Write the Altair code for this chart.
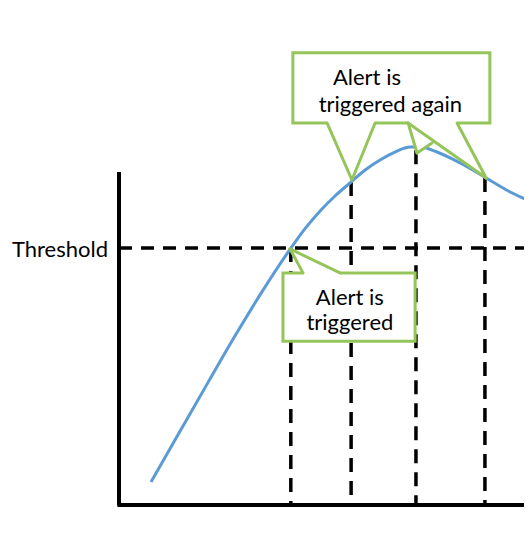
import altair as alt
import pandas as pd

# ---- data (x: time 0..100, y: value 0..100 where 100 = top of y axis) ----
curve_t = [7.75, 14.8, 21.6, 28.1, 34.6, 41.65, 45.0, 48.7, 52.3, 56.2, 59.6, 63.2, 66.8, 70.5, 72.9, 77.0, 82.6, 88.9, 94.7, 100.0]
curve_v = [6.9, 22.2, 36.9, 50.8, 64.0, 77.2, 82.9, 88.3, 92.8, 97.0, 100.6, 103.6, 106.0, 107.5, 107.5, 106.0, 102.7, 98.2, 94.0, 91.0]

threshold = 77.2
alert_t = [41.6, 56.2, 71.9, 88.6]
alert_v = [77.2, 97.0, 106.5, 98.2]

# callout boxes
box_id = ["once", "again"]
box_x1 = [39.7, 42.1]
box_x2 = [71.7, 89.8]
box_y1 = [49.2, 114.7]
box_y2 = [69.7, 135.8]

# callout pointers (white fill): id, x, low, high
ptr_id = ["a", "a", "a", "b", "b", "b", "c", "c", "c", "d", "d", "d"]
ptr_x = [41.4, 44.55, 53.5, 50.4, 56.4, 62.0, 70.0, 72.15, 75.8, 70.0, 81.85, 88.9]
ptr_lo = [76.9, 69.1, 69.1, 114.7, 97.6, 114.7, 114.7, 105.7, 108.7, 114.7, 104.3, 98.2]
ptr_hi = [76.9, 75.0, 69.7, 115.3, 115.3, 115.3, 115.3, 112.5, 108.7, 115.3, 115.3, 98.2]

# pointer edges
edge_x1 = [44.55, 53.5, 50.4, 62.0, 70.0, 72.15, 70.0, 81.85]
edge_y1 = [69.7, 69.7, 114.7, 114.7, 114.7, 105.7, 114.7, 114.7]
edge_x2 = [41.4, 41.4, 56.4, 56.4, 72.15, 75.8, 88.9, 88.9]
edge_y2 = [76.9, 76.9, 97.6, 97.6, 105.7, 108.7, 98.2, 98.2]

# texts
txt = ["Alert is", "triggered again", "Alert is", "triggered"]
txt_x = [51.8, 65.7, 55.9, 55.9]
txt_y = [126.1, 118.1, 60.1, 52.6]
txt_align = ["left", "center", "center", "center"]

label_text = ["Threshold"]

GREEN = "#95C55A"
BLUE = "#5B9BD5"
FONT = "Lato"
FS = 22

xs = alt.Scale(domain=[0, 98.06], nice=False, zero=False)
ys = alt.Scale(domain=[0, 100], nice=False, zero=False)

curve_df = pd.DataFrame({"t": curve_t, "v": curve_v})
alert_df = pd.DataFrame({"t": alert_t, "v": alert_v, "base": [0] * len(alert_t)})
box_df = pd.DataFrame({"id": box_id, "x1": box_x1, "x2": box_x2, "y1": box_y1, "y2": box_y2})
ptr_df = pd.DataFrame({"id": ptr_id, "x": ptr_x, "lo": ptr_lo, "hi": ptr_hi})
edge_df = pd.DataFrame({"x1": edge_x1, "y1": edge_y1, "x2": edge_x2, "y2": edge_y2})
txt_df = pd.DataFrame({"text": txt, "x": txt_x, "y": txt_y, "align": txt_align})
thr_df = pd.DataFrame({"y": [threshold], "x1": [0], "x2": [100], "label": label_text, "lx": [-2.66], "ly": [74.5]})
axes_df = pd.DataFrame({"x1": [0, -0.4], "x2": [0, 100], "y1": [0, 0], "y2": [100, 0]})

X = lambda f: alt.X(f, type="quantitative", scale=xs, axis=None)
Y = lambda f: alt.Y(f, type="quantitative", scale=ys, axis=None)

vlines = alt.Chart(alert_df).mark_rule(color="black", strokeWidth=3.5, strokeDash=[14, 9]).encode(
    x=X("t"), y=Y("v"), y2="base"
)
hline = alt.Chart(thr_df).mark_rule(color="black", strokeWidth=3.5, strokeDash=[13, 9]).encode(
    x=X("x1"), x2="x2", y=Y("y")
)
curve = alt.Chart(curve_df).mark_line(color=BLUE, strokeWidth=3, interpolate="monotone").encode(
    x=X("t"), y=Y("v")
)
axes = alt.Chart(axes_df).mark_rule(color="black", strokeWidth=4).encode(
    x=X("x1"), x2="x2", y=Y("y1"), y2="y2"
)
boxes = alt.Chart(box_df).mark_rect(fill="white", stroke=GREEN, strokeWidth=3).encode(
    x=X("x1"), x2="x2", y=Y("y1"), y2="y2"
)
ptrs = alt.Chart(ptr_df).mark_area(fill="white", opacity=1).encode(
    x=X("x"), y=Y("lo"), y2="hi", detail="id"
)
edges = alt.Chart(edge_df).mark_rule(color=GREEN, strokeWidth=3, strokeCap="round").encode(
    x=X("x1"), x2="x2", y=Y("y1"), y2="y2"
)
texts_left = alt.Chart(txt_df).transform_filter(alt.datum.align == "left").mark_text(
    font=FONT, fontSize=FS, color="black", baseline="alphabetic", align="left"
).encode(x=X("x"), y=Y("y"), text="text")
texts_center = alt.Chart(txt_df).transform_filter(alt.datum.align == "center").mark_text(
    font=FONT, fontSize=FS, color="black", baseline="alphabetic", align="center"
).encode(x=X("x"), y=Y("y"), text="text")
thr_label = alt.Chart(thr_df).mark_text(font=FONT, fontSize=FS, color="black", baseline="alphabetic", align="right").encode(
    x=X("lx"), y=Y("ly"), text="label"
)

chart = alt.layer(vlines, hline, curve, axes, boxes, ptrs, edges, texts_left, texts_center, thr_label).properties(
    width=405, height=333,
    padding={"left": 111, "top": 164, "right": 0, "bottom": 6},
    autosize=alt.AutoSizeParams(type="none"),
    background="white",
).configure_view(strokeWidth=0)

chart.save("out.html", embed_options={"renderer": "svg", "actions": False})
